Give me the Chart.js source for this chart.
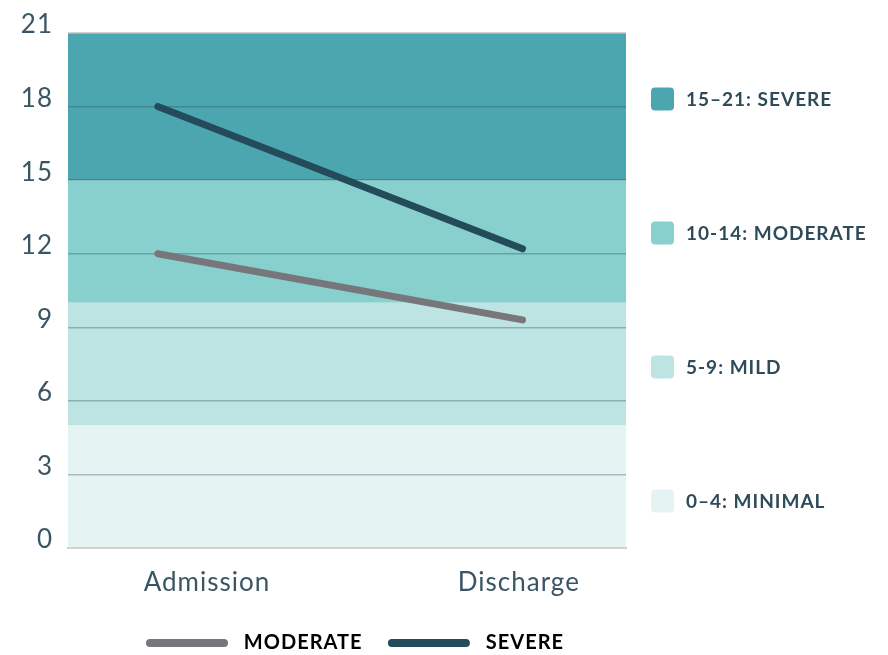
<!DOCTYPE html>
<html><head><meta charset="utf-8">
<script src="https://cdn.jsdelivr.net/npm/chart.js@4"></script>
<style>html,body{margin:0;padding:0;background:#fff}#wrap{width:888px;height:655px;position:relative}</style>
</head><body><div id="wrap"><canvas id="c"></canvas></div>
<script>
// ---- data ----
const categories = ['Admission', 'Discharge'];
const seriesNames = ['MODERATE', 'SEVERE'];
const moderateValues = [12, 9.3];
const severeValues = [18, 12.2];
const yTickValues = [0, 3, 6, 9, 12, 15, 18, 21];
const bandLabels = ['15–21: SEVERE', '10-14: MODERATE', '5-9: MILD', '0–4: MINIMAL'];
const bandLows = [15, 10, 5, 0];
const bandHighs = [21, 15, 10, 5];

// ---- layout / style ----
const pointX = [0.161, 0.8145];      // where the two time points sit on the 0..1 x scale
const labelX = [0.249, 0.808];       // where the category labels sit
const bandColors = ['#4ba6b0', '#87d0ce', '#bde4e3', '#e6f3f3'];
const lineColors = ['#77767b', '#244b5a'];
const textColor = '#3a5664';
const legendShiftX = 8;
const legendShiftY = 8;

const spacingPlugin = {
  id: 'spacing',
  beforeUpdate(chart) { chart.ctx.letterSpacing = '1px'; },
  afterLayout(chart) {
    const lg = chart.legend;
    if (lg) {
      lg.left += legendShiftX; lg.right += legendShiftX;
      lg.top += legendShiftY; lg.bottom += legendShiftY;
    }
  },
  beforeDraw(chart) { chart.ctx.letterSpacing = '1px'; }
};

const bandsPlugin = {
  id: 'bands',
  beforeDraw(chart) {
    const {ctx, chartArea: a, scales: {y}} = chart;
    ctx.save();
    bandLows.forEach((lo, i) => {
      const top = y.getPixelForValue(bandHighs[i]);
      const bot = y.getPixelForValue(lo);
      ctx.fillStyle = bandColors[i];
      ctx.fillRect(a.left, top, a.right - a.left, bot - top);
    });
    ctx.restore();
  }
};

const bandLegend = {
  id: 'bandLegend',
  afterDraw(chart) {
    const {ctx, chartArea: a} = chart;
    ctx.save();
    ctx.letterSpacing = '1px';
    ctx.font = '700 19px Lato';
    ctx.textBaseline = 'middle';
    ctx.textAlign = 'left';
    bandLabels.forEach((lab, i) => {
      const cy = a.top + 66 + i * 134;
      const x = a.right + 25;
      ctx.fillStyle = bandColors[i];
      ctx.beginPath();
      if (ctx.roundRect) ctx.roundRect(x, cy - 11.5, 23, 23, 4); else ctx.rect(x, cy - 11.5, 23, 23);
      ctx.fill();
      ctx.fillStyle = '#2f4b59';
      ctx.fillText(lab, x + 35, cy + 1);
    });
    ctx.restore();
  }
};

const mkData = vals => pointX.map((x, i) => ({x: x, y: vals[i]}));

new Chart(document.getElementById('c'), {
  type: 'line',
  data: {
    datasets: [
      {label: seriesNames[0], data: mkData(moderateValues), borderColor: lineColors[0], backgroundColor: lineColors[0],
       borderWidth: 7, borderCapStyle: 'round', pointRadius: 0, tension: 0, fill: false},
      {label: seriesNames[1], data: mkData(severeValues), borderColor: lineColors[1], backgroundColor: lineColors[1],
       borderWidth: 7, borderCapStyle: 'round', pointRadius: 0, tension: 0, fill: false}
    ]
  },
  options: {
    responsive: true, maintainAspectRatio: false, animation: false,
    layout: {padding: {left: 20, right: 262, top: 33, bottom: 0}},
    scales: {
      x: {
        type: 'linear', min: 0, max: 1,
        grid: {display: false, drawTicks: false},
        border: {display: true, color: '#d2d2d2', width: 2},
        afterBuildTicks(ax) { ax.ticks = labelX.map(v => ({value: v})); },
        afterFit(ax) { ax.height = 75; },
        ticks: {autoSkip: false, maxRotation: 0, padding: 19, color: textColor,
                font: {family: 'Lato', size: 26}, callback: (v, i) => categories[i]}
      },
      y: {
        min: 0, max: 21,
        afterBuildTicks(ax) { ax.ticks = yTickValues.map(v => ({value: v})); },
        afterFit(ax) { ax.width = 48; },
        grid: {drawTicks: false, lineWidth: 1.5,
               color: c => (c.tick && (c.tick.value === 0 || c.tick.value === 21)) ? '#d2d2d2' : 'rgba(45,80,85,0.35)'},
        border: {display: false},
        ticks: {padding: 15, labelOffset: -8, color: textColor, font: {family: 'Lato', size: 26}}
      }
    },
    plugins: {
      tooltip: {enabled: false},
      legend: {
        position: 'bottom', fullSize: false,
        labels: {
          boxWidth: 82, boxHeight: 8, padding: 2,
          color: '#34505e', font: {family: 'Lato', size: 20, weight: '700'},
          generateLabels(chart) {
            return chart.data.datasets.map((d, i) => ({
              text: ' ' + d.label + (i === 0 ? '    ' : ''),
              fillStyle: d.borderColor, strokeStyle: d.borderColor, lineWidth: 0,
              borderRadius: 4, datasetIndex: i, hidden: false
            }));
          }
        }
      }
    }
  },
  plugins: [spacingPlugin, bandsPlugin, bandLegend]
});
</script></body></html>
